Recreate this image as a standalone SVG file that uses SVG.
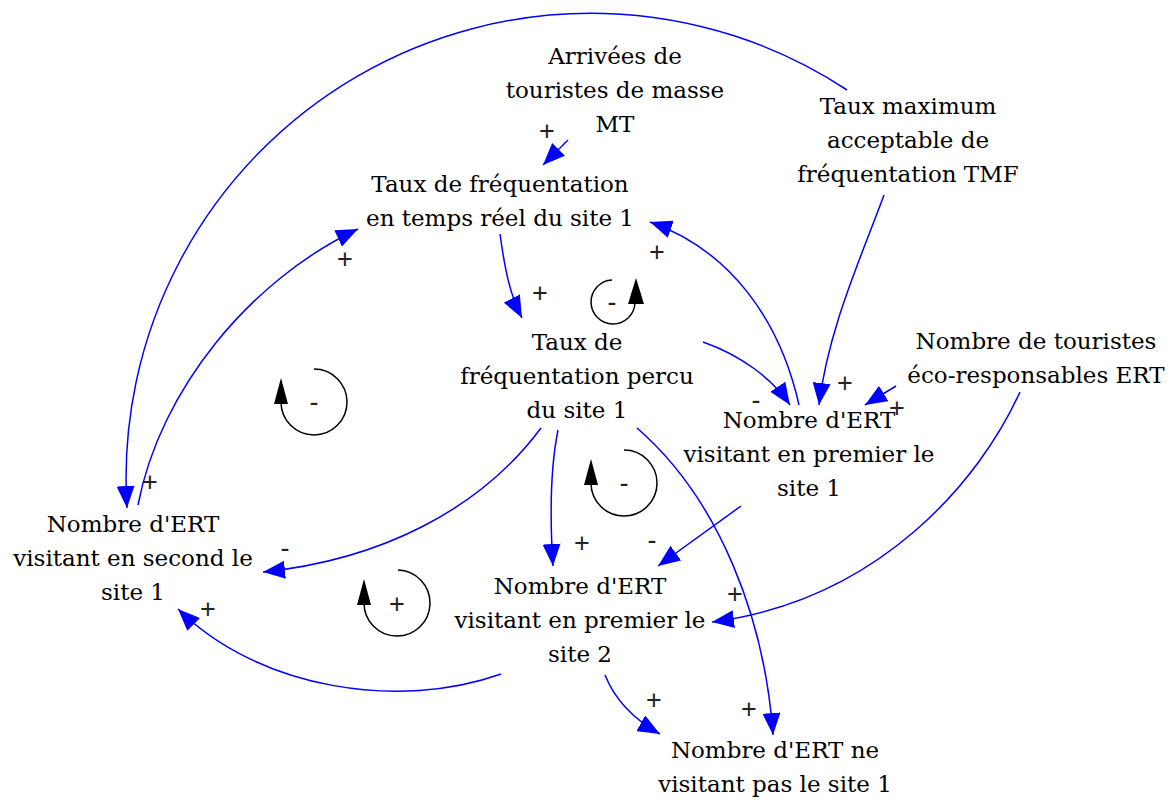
<svg xmlns="http://www.w3.org/2000/svg" width="1176" height="800" viewBox="0 0 1176 800">
<style>
.n{font-family:"DejaVu Serif","Liberation Serif",serif;font-size:23px;fill:#000;text-anchor:middle}
.p{font-family:"Liberation Sans","DejaVu Sans",sans-serif;font-size:27px;fill:#222;text-anchor:middle}
.c{fill:none;stroke:#0000ff;stroke-width:1.5;marker-end:url(#ah)}
.l{fill:none;stroke:#000;stroke-width:1.5}
.lh{fill:#000}
</style>
<defs>
<marker id="ah" markerUnits="userSpaceOnUse" markerWidth="22" markerHeight="18" viewBox="0 0 22 18" refX="22" refY="9" orient="auto">
<path d="M0,0 L22,9 L0,18 z" fill="#0000ff"/>
</marker>
</defs>
<rect width="1176" height="800" fill="#fff"/>
<g id="connectors">
<path class="c" d="M568,140 L543,165"/>
<path class="c" d="M847,90 A465,465 0 0 0 127,508"/>
<path class="c" d="M138,505 C160,390 250,280 358,229"/>
<path class="c" d="M500,234 C505,270 510,295 522,318"/>
<path class="c" d="M799,405 C780,320 730,250 650,222"/>
<path class="c" d="M884,195 C860,260 828,330 819,405"/>
<path class="c" d="M703,342 C740,355 772,378 790,405"/>
<path class="c" d="M896,386 L865,405"/>
<path class="c" d="M1020,392 C980,480 880,600 712,622"/>
<path class="c" d="M541,428 C480,510 380,560 263,572"/>
<path class="c" d="M558,430 C550,470 550,520 553,566"/>
<path class="c" d="M637,428 C720,500 765,620 773,735"/>
<path class="c" d="M741,506 L658,566"/>
<path class="c" d="M501,674 C400,710 260,690 178,609"/>
<path class="c" d="M605,675 C615,700 635,720 660,734"/>
</g>
<g id="polarities">
<text class="p" x="547" y="140">+</text>
<text class="p" x="150" y="491">+</text>
<text class="p" x="345" y="268">+</text>
<text class="p" x="540" y="302">+</text>
<text class="p" x="657" y="261">+</text>
<text class="p" x="845" y="392">+</text>
<text class="p" x="756" y="409">-</text>
<text class="p" x="897" y="417">+</text>
<text class="p" x="735" y="603">+</text>
<text class="p" x="285" y="557">-</text>
<text class="p" x="582" y="552">+</text>
<text class="p" x="749" y="718">+</text>
<text class="p" x="652" y="549">-</text>
<text class="p" x="208" y="618">+</text>
<text class="p" x="654" y="709">+</text>
</g>
<g id="loop1">
<path class="l" d="M612,280 A22,22 0 1 0 635,303"/>
<path class="lh" d="M636,278 L644,304 L628,304 z"/>
<text class="p" x="612" y="311">-</text>
</g>
<g id="loop2">
<path class="l" d="M314,369 A33,33 0 1 1 281,402"/>
<path class="lh" d="M281,378 L288,404 L274,404 z"/>
<text class="p" x="314" y="411">-</text>
</g>
<g id="loop3">
<path class="l" d="M624,450 A33,33 0 1 1 591,483"/>
<path class="lh" d="M591,459 L598,485 L584,485 z"/>
<text class="p" x="624" y="492">-</text>
</g>
<g id="loop4">
<path class="l" d="M398,570 A33,33 0 1 1 364,603"/>
<path class="lh" d="M364,579 L371,605 L357,605 z"/>
<text class="p" x="397" y="613">+</text>
</g>
<g id="n-mt">
<text class="n" x="615" y="64"><tspan x="615">Arrivées de</tspan><tspan x="615" dy="34">touristes de masse</tspan><tspan x="615" dy="34">MT</tspan></text>
</g>
<g id="n-taux-reel">
<text class="n" x="500" y="192"><tspan x="500">Taux de fréquentation</tspan><tspan x="500" dy="34">en temps réel du site 1</tspan></text>
</g>
<g id="n-tmf">
<text class="n" x="908" y="114"><tspan x="908">Taux maximum</tspan><tspan x="908" dy="34">acceptable de</tspan><tspan x="908" dy="34">fréquentation TMF</tspan></text>
</g>
<g id="n-taux-percu">
<text class="n" x="577" y="350"><tspan x="577">Taux de</tspan><tspan x="577" dy="34">fréquentation percu</tspan><tspan x="577" dy="34">du site 1</tspan></text>
</g>
<g id="n-ert">
<text class="n" x="1036" y="349"><tspan x="1036">Nombre de touristes</tspan><tspan x="1036" dy="34">éco-responsables ERT</tspan></text>
</g>
<g id="n-premier1">
<text class="n" x="809" y="428"><tspan x="809">Nombre d'ERT</tspan><tspan x="809" dy="34">visitant en premier le</tspan><tspan x="809" dy="34">site 1</tspan></text>
</g>
<g id="n-second1">
<text class="n" x="133" y="532"><tspan x="133">Nombre d'ERT</tspan><tspan x="133" dy="34">visitant en second le</tspan><tspan x="133" dy="34">site 1</tspan></text>
</g>
<g id="n-premier2">
<text class="n" x="580" y="594"><tspan x="580">Nombre d'ERT</tspan><tspan x="580" dy="34">visitant en premier le</tspan><tspan x="580" dy="34">site 2</tspan></text>
</g>
<g id="n-nevisitant">
<text class="n" x="775" y="758"><tspan x="775">Nombre d'ERT ne</tspan><tspan x="775" dy="34">visitant pas le site 1</tspan></text>
</g>
</svg>
